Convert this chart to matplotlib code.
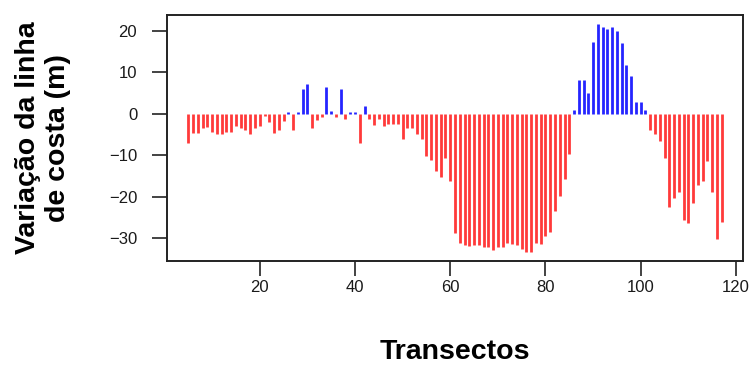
import numpy as np
import matplotlib
matplotlib.use("Agg")
import matplotlib.pyplot as plt

plt.rcParams["font.family"] = ["Liberation Sans", "DejaVu Sans"]

# shoreline change per transect (m)
transectos = np.arange(5, 118)
variacao = [
    -7.0, -4.7, -4.7, -3.4, -3.2, -4.4, -4.8, -4.8, -4.4, -4.4,   # 5-14
    -2.9, -3.4, -3.9, -4.8, -3.4, -2.9, -0.6, -1.9, -4.7, -4.0,   # 15-24
    -1.8, 0.4, -3.8, 0.4, 6.0, 7.3, -3.4, -1.5, -0.7, 6.5,        # 25-34
    0.6, -0.7, 6.0, -1.2, 0.5, 0.5, -7.0, 1.9, -1.2, -2.6,        # 35-44
    -1.2, -3.0, -2.5, -2.5, -2.5, -6.2, -3.4, -3.4, -4.8, -6.2,   # 45-54
    -10.2, -11.2, -13.8, -15.2, -10.7, -16.3, -28.9, -31.2, -31.8, -32.0,  # 55-64
    -31.8, -31.8, -32.1, -32.1, -32.9, -32.1, -32.1, -31.2, -31.6, -31.8,  # 65-74
    -32.6, -33.4, -33.4, -31.2, -31.6, -29.5, -28.5, -23.5, -19.8, -15.7,  # 75-84
    -9.8, 1.0, 8.3, 8.3, 5.1, 17.4, 21.7, 21.1, 20.4, 20.9,       # 85-94
    20.1, 17.2, 11.9, 9.2, 2.9, 2.9, 0.9, -3.8, -4.8, -6.6,       # 95-104
    -10.6, -22.5, -20.3, -18.9, -25.7, -26.5, -21.6, -17.1, -16.3, -11.3,  # 105-114
    -18.9, -30.3, -26.2,                                          # 115-117
]
variacao = np.array(variacao)

xticks = [20, 40, 60, 80, 100, 120]
yticks = [-30, -20, -10, 0, 10, 20]

fig = plt.figure(figsize=(7.55, 3.65), dpi=100)
ax = fig.add_axes([0.2212, 0.2849, 0.7629, 0.674])

cores = np.where(variacao >= 0, "#2525ff", "#ff3a3a")
ax.vlines(transectos, 0, variacao, colors=cores, linewidth=2.0)
ax.margins(x=0.04, y=0.04)

ax.set_xticks(xticks)
ax.set_yticks(yticks)
ax.set_yticklabels([str(v).replace("-", "\u2212") for v in yticks])
ax.tick_params(direction="out", length=10.5, width=1.2, color="#222222",
               labelsize=12, labelcolor="#1a1a1a")
ax.tick_params(axis="y", pad=11)
ax.tick_params(axis="x", pad=3)

for s in ax.spines.values():
    s.set_linewidth(1.4)
    s.set_color("#222222")

ax.set_xlabel("Transectos", fontsize=20.5, fontweight="bold")
ax.xaxis.set_label_coords(0.5, -0.315)
fig.text(0.057, 0.622, "Variação da linha\nde costa (m)", rotation=90,
         ha="center", va="center", multialignment="center",
         fontsize=20.5, fontweight="bold")

fig.savefig("out.png", dpi=100)
